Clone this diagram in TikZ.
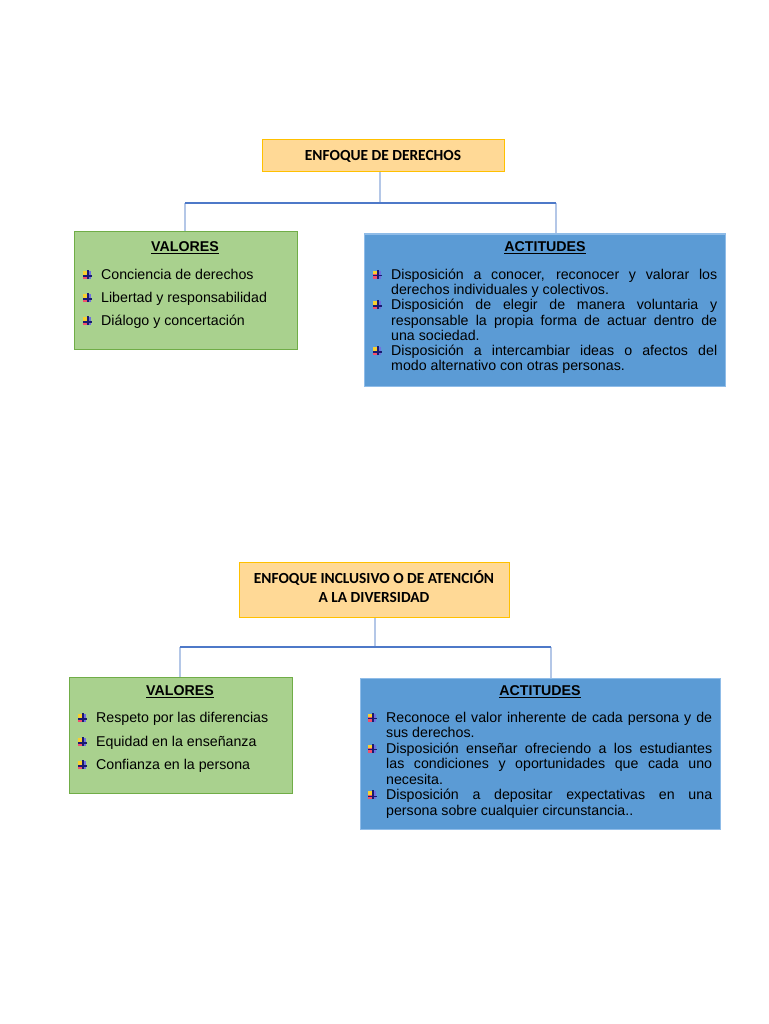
\documentclass[tikz,border=0pt]{standalone}
\usepackage{fontspec}
\setmainfont{Liberation Sans}
\newfontfamily\calib{Carlito}
\definecolor{tfill}{HTML}{FFD996}
\definecolor{tline}{HTML}{FFC000}
\definecolor{gfill}{HTML}{A9D18E}
\definecolor{gline}{HTML}{70AD47}
\definecolor{bfill}{HTML}{5B9BD5}
\definecolor{bline}{HTML}{8FBCE8}
\definecolor{hline}{HTML}{4E79C8}
\definecolor{vline}{HTML}{B4C7E7}
\definecolor{bRed}{HTML}{F0506E}
\definecolor{bYel}{HTML}{F8D030}
\definecolor{bBlu}{HTML}{7070E0}
\definecolor{bNav}{HTML}{1A1A70}
\newcommand\bul{\makebox[9pt][l]{\rlap{\color{bRed}\rule{4.5pt}{4.5pt}}\rlap{\raisebox{4.5pt}{\color{bYel}\rule{4.5pt}{3.5pt}}}\rlap{\hspace{4.5pt}\color{bBlu}\rule{3.5pt}{8pt}}\rlap{\hspace{4pt}\color{bNav}\rule{1.5pt}{9pt}}\rlap{\raisebox{2.5pt}{\color{bNav}\rule{8.5pt}{1.3pt}}}}}
\newcommand\itm[1]{\hangindent=18pt\hangafter=1\noindent\makebox[18pt][l]{\raisebox{0.5pt}{\bul}}#1\par}
\tikzset{
  titlebox/.style={draw=tline, line width=1pt, fill=tfill, inner sep=0pt, align=center,
    font=\calib\bfseries\fontsize{15.4}{19}\selectfont},
  titletext/.style={inner sep=0pt, align=center, font=\calib\bfseries\fontsize{15.4}{19}\selectfont},
  valbox/.style={draw=gline, line width=1pt, fill=gfill, inner sep=0pt},
  actbox/.style={draw=bline, line width=1pt, fill=bfill, inner sep=0pt},
  boxhead/.style={inner sep=0pt, font=\bfseries\fontsize{14.2}{15.4}\selectfont},
  valitem/.style={inner sep=0pt, anchor=base west, font=\fontsize{14.2}{15.4}\selectfont},
  actpar/.style={inner sep=0pt, anchor=north west, align=justify, font=\fontsize{14.2}{15.3}\selectfont},
  actpartwo/.style={actpar, font=\fontsize{14.2}{15.55}\selectfont},
  hconn/.style={draw=hline, line width=1.2pt},
  vconn/.style={draw=vline, line width=1.5pt},
}
\begin{document}
\begin{tikzpicture}[x=1pt,y=-1pt]
\useasboundingbox (0,0) rectangle (768,1024);
% ---------- first block ----------
\node[titlebox, minimum width=242pt, minimum height=32pt] (t1) at (383,156) {ENFOQUE DE DERECHOS};
\node[valbox, minimum width=223pt, minimum height=117pt] (v1) at (185.5,290.5) {};
\node[actbox, minimum width=361pt, minimum height=152pt] (a1) at (544.5,310) {};
\coordinate (j1) at (380,203);
\coordinate (l1) at (185,203);
\coordinate (r1) at (556,203);
\draw[vconn] (j1) -- (j1 |- t1.south);
\draw[vconn] (l1) -- (l1 |- v1.north);
\draw[vconn] (r1) -- (r1 |- a1.north);
\draw[hconn] (l1) -- (r1);
\node[boxhead] (v1h) at (185,247.5) {\underline{VALORES}};
\node[valitem] (v1a) at (83,279) {\makebox[18pt][l]{\bul}Conciencia de derechos};
\node[valitem] (v1b) at (83,302) {\makebox[18pt][l]{\bul}Libertad y responsabilidad};
\node[valitem] (v1c) at (83,325) {\makebox[18pt][l]{\bul}Diálogo y concertación};
\node[boxhead] (a1h) at (545,247.5) {\underline{ACTITUDES}};
\node[actpar, text width=344pt] (a1t) at (373,268.2) {\parindent=0pt\hyphenpenalty=10000\exhyphenpenalty=10000%
\itm{\strut Disposición a conocer, reconocer y valorar los\linebreak derechos individuales y colectivos.}%
\itm{Disposición de elegir de manera voluntaria y\linebreak responsable la propia forma de actuar dentro de\linebreak una sociedad.}%
\itm{Disposición a intercambiar ideas o afectos del\linebreak modo alternativo con otras personas.}};
% ---------- second block ----------
\node[titlebox, minimum width=270pt, minimum height=55pt] (t2) at (374,589.5) {};
\node[titletext] (t2t) at (374,586.5) {ENFOQUE INCLUSIVO O DE ATENCIÓN\\[-0.8pt]A LA DIVERSIDAD};
\node[valbox, minimum width=223pt, minimum height=116pt] (v2) at (180.5,735) {};
\node[actbox, minimum width=360pt, minimum height=151pt] (a2) at (540,753.5) {};
\coordinate (j2) at (375,647);
\coordinate (l2) at (180,647);
\coordinate (r2) at (551,647);
\draw[vconn] (j2) -- (j2 |- t2.south);
\draw[vconn] (l2) -- (l2 |- v2.north);
\draw[vconn] (r2) -- (r2 |- a2.north);
\draw[hconn] (l2) -- (r2);
\node[boxhead] (v2h) at (180,691.5) {\underline{VALORES}};
\node[valitem] (v2a) at (78,722) {\makebox[18pt][l]{\bul}Respeto por las diferencias};
\node[valitem] (v2b) at (78,746) {\makebox[18pt][l]{\bul}Equidad en la enseñanza};
\node[valitem] (v2c) at (78,769) {\makebox[18pt][l]{\bul}Confianza en la persona};
\node[boxhead] (a2h) at (540,691.5) {\underline{ACTITUDES}};
\node[actpartwo, text width=344pt] (a2t) at (368,711.1) {\parindent=0pt\hyphenpenalty=10000\exhyphenpenalty=10000%
\itm{\strut Reconoce el valor inherente de cada persona y de\linebreak sus derechos.}%
\itm{Disposición enseñar ofreciendo a los estudiantes\linebreak las condiciones y oportunidades que cada uno\linebreak necesita.}%
\itm{Disposición a depositar expectativas en una\linebreak persona sobre cualquier circunstancia..}};
\end{tikzpicture}
\end{document}
